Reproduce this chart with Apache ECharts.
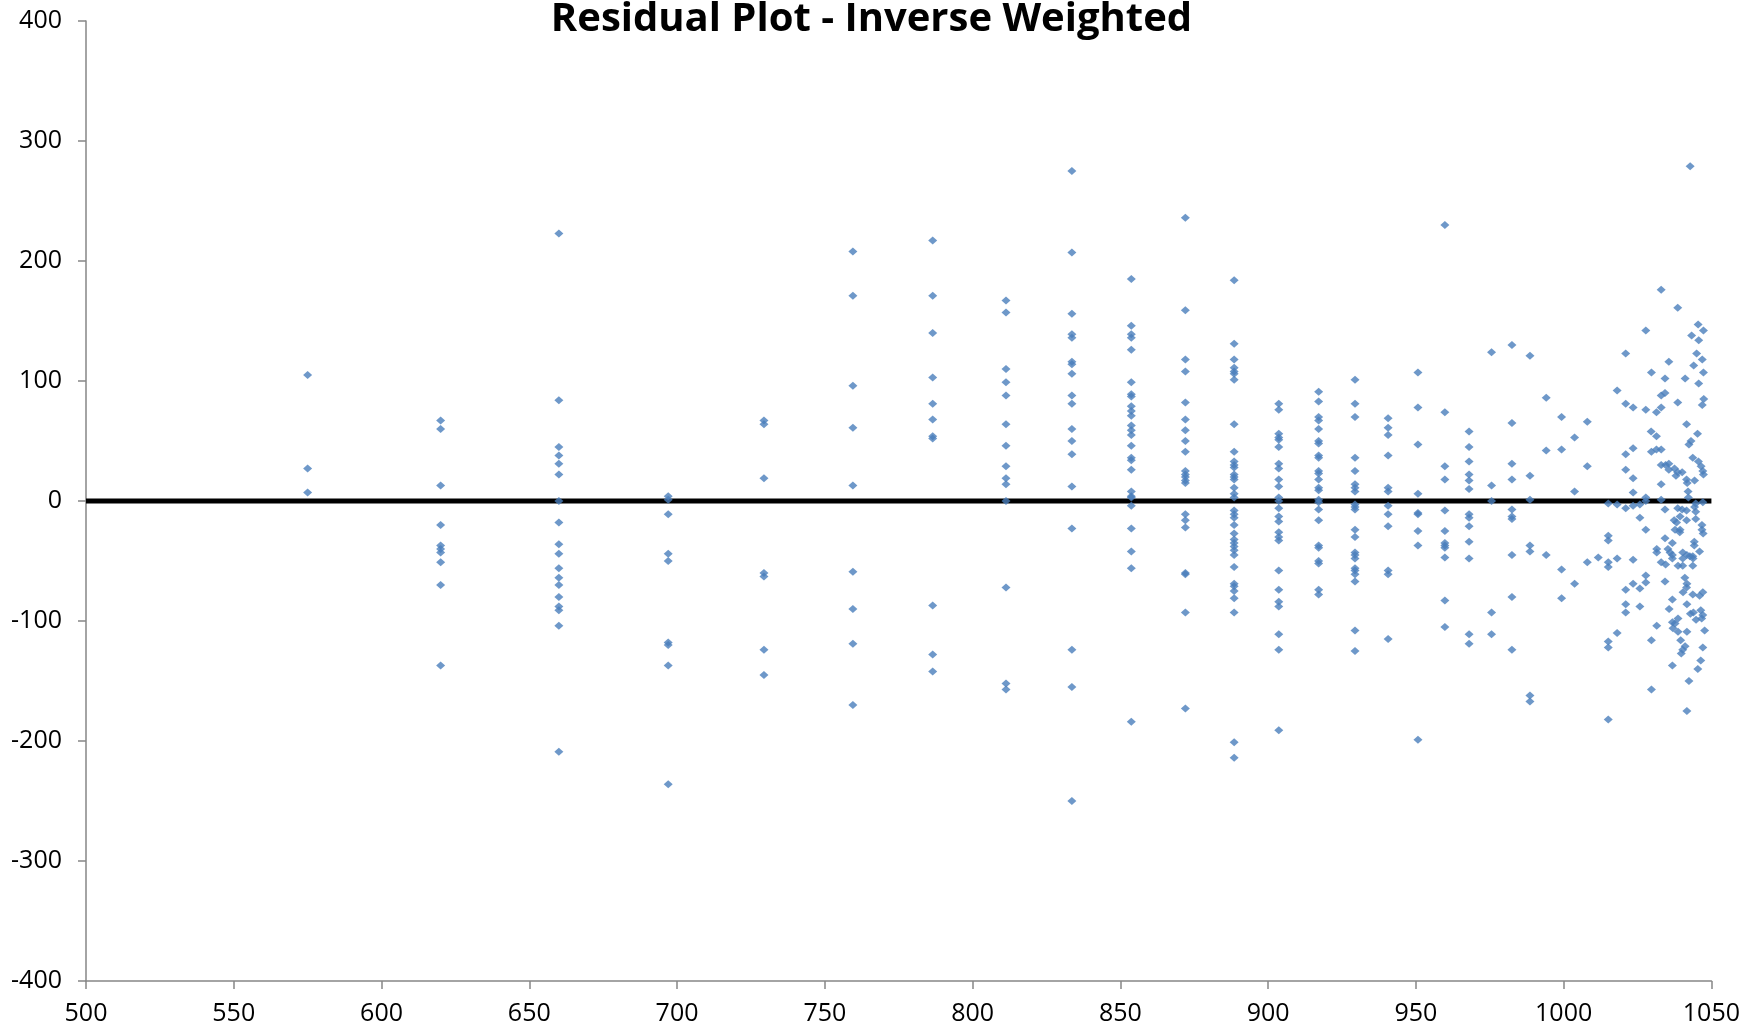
<!DOCTYPE html>
<html>
<head>
<meta charset="utf-8">
<title>Residual Plot - Inverse Weighted</title>
<script src="https://cdn.jsdelivr.net/npm/echarts@6/dist/echarts.min.js"></script>
<style>
  html, body { margin: 0; padding: 0; background: #fff; }
  #chart { width: 1743px; height: 1029px; }
</style>
</head>
<body>
<div id="chart"></div>
<script>
// predicted values where several points share the same x
var colX = [575, 620, 660, 697, 729.4, 759.5, 786.5, 811.3, 833.6, 853.7, 872, 888.5,
            903.6, 917.1, 929.4, 940.6, 950.7, 959.8, 968, 975.6, 982.5, 988.6, 994.1];

// residuals for each of those x values (same order)
var colRes = [
    [105, 27, 7],
    [67, 60, 13, -20, -37, -40, -43, -51, -70, -137],
    [223, 84, 45, 38, 31, 22, 0, -18, -36, -44, -56, -64, -70, -80, -88, -91, -104, -209],
    [4, 1, -11, -44, -50, -118, -120, -137, -236],
    [67, 64, 19, -60, -63, -124, -145],
    [208, 171, 96, 61, 13, -59, -90, -119, -170],
    [217, 171, 140, 103, 81, 68, 54, 52, -87, -128, -142],
    [167, 157, 110, 99, 88, 64, 46, 29, 19, 14, 0, -72, -152, -157],
    [275, 207, 156, 139, 136, 116, 114, 106, 88, 81, 60, 50, 39, 12, -23, -124, -155, -250],
    [185, 146, 139, 136, 126, 99, 89, 87, 79, 75, 71, 63, 59, 55, 46, 36, 34, 26, 8, 4, 3, -4, -23, -42, -56, -184],
    [236, 159, 118, 108, 82, 68, 59, 50, 41, 25, 22, 20, 17, 15, -11, -16, -22, -60, -61, -93, -173],
    [184, 131, 118, 111, 108, 106, 101, 64, 41, 33, 30, 28, 22, 20, 18, 11, 6, 3, -8, -11, -14, -20, -27,
     -32, -35, -38, -41, -45, -55, -69, -71, -75, -81, -93, -201, -214],
    [81, 76, 56, 53, 51, 45, 31, 27, 18, 12, 3, 0, -6, -13, -17, -26, -30, -33, -58, -74, -84, -88, -111, -124, -191],
    [91, 83, 70, 67, 60, 50, 48, 38, 36, 25, 23, 18, 11, 9, 1, -1, -7, -16, -37, -39, -50, -52, -74, -78],
    [101, 81, 70, 36, 25, 14, 11, 8, -3, -5, -7, -24, -30, -43, -45, -48, -56, -58, -61, -67, -108, -125],
    [69, 61, 55, 38, 11, 8, -4, -11, -21, -58, -61, -115],
    [107, 78, 47, 6, -10, -11, -25, -37, -199],
    [230, 74, 29, 18, -8, -25, -35, -37, -39, -47, -83, -105],
    [58, 45, 33, 22, 17, 10, -11, -14, -21, -34, -48, -111, -119],
    [124, 13, 0, -93, -111],
    [130, 65, 31, 18, -7, -13, -15, -45, -80, -124],
    [121, 21, 1, -37, -42, -162, -167],
    [86, 42, -45]
];

// scattered points above 995
var tailX = [
    1042.8, 1033, 1038.6, 1045.5, 1047.3, 1043.3, 1045.7, 1027.8, 1021, 1045, 1035.6, 1046.9, 1044,
    1029.7, 1047.3, 1034.3, 1041.1, 1045.7, 1018.1, 1033, 1034.3, 1047.4, 1046.9, 1021, 1023.5, 1027.8,
    1038.6, 1033, 1031.4, 999.3, 1008, 1041.6, 1045.3, 1003.7, 1029.6, 1031.4, 1043.1, 1042.4, 999.3,
    1023.5, 1021, 1029.7, 1031.4, 1033, 1043.7, 1045.6, 1046.5, 1047.1, 1047.3, 1008, 1033, 1034.5,
    1035.6, 1021, 1023.5, 1035.6, 1037.5, 1038.6, 1040.1, 1038, 1041.6, 1044.3, 1041.8, 1033, 1003.7,
    1023.5, 1042.1, 1027.8, 1027.8, 1033, 1042.2,
    1015.1, 1018.1, 1021, 1023.5, 1025.8, 1034.3, 1038.6, 1040.1, 1041.6, 1039.4, 1041.6, 1037.4,
    1038.2, 1044.7, 1044.3, 1044.7, 1044.7, 1047.1, 1025.8, 1027.8, 1015.1, 1015.1, 1034.3, 1036.8,
    1037.7, 1039.4, 1039.3, 1046.8, 1046.8, 1047.2, 1044.2, 1044.2, 1046, 1031.5, 1031.5, 1035.3, 1036,
    1036.8, 1036.8, 1040.3, 1041.7, 1040.3, 1042.7, 1043.7, 1043.8, 1038.7, 1040.3, 1043.7, 1033, 1034.5,
    1011.7, 1008, 1015.1, 1015.1, 1018.1, 1023.5, 999.3, 1003.7, 999.3, 1027.8, 1027.8, 1023.5, 1025.8,
    1021, 1034.3, 1041, 1041.7, 1041.6, 1040.4, 1043.7, 1046, 1047.1, 1036.8, 1035.7, 1041.7, 1021, 1021,
    1025.8, 1042.9, 1043.9, 1046.4, 1047.1, 1044.8, 1046.7, 1038.7, 1036.8, 1037.7, 1037, 1031.5, 1038.7,
    1041.7, 1047.7, 1018.1, 1029.7, 1039.6, 1015.1, 1015.1, 1041.1, 1040.3, 1039.8, 1047.1, 1046.4,
    1036.8, 1045.4, 1042.4, 1029.7, 1041.7, 1015.1
];
var tailRes = [
    279, 176, 161, 147, 142, 138, 134, 142, 123, 123, 116, 118, 113,
    107, 107, 102, 102, 98, 92, 88, 90, 85, 80, 81, 78, 76,
    82, 78, 74, 70, 66, 64, 56, 53, 58, 54, 50, 47, 43,
    44, 39, 41, 43, 43, 36, 33, 29, 25, 22, 29, 30, 30,
    31, 26, 19, 26, 27, 24, 24, 21, 18, 17, 15, 14, 8,
    7, 8, 3, 0, 1, 3,
    -2, -3, -6, -4, -3, -7, -6, -7, -8, -13, -16, -16,
    -18, -2, -5, -9, -15, -1, -14, -24, -29, -33, -31, -35,
    -24, -24, -26, -20, -24, -27, -34, -37, -42, -40, -43, -40, -43,
    -45, -48, -43, -45, -48, -46, -46, -48, -54, -54, -54, -51, -53,
    -47, -51, -51, -55, -48, -49, -57, -69, -81, -62, -68, -69, -73,
    -74, -67, -64, -69, -72, -76, -78, -79, -76, -82, -90, -86, -86, -93,
    -88, -94, -93, -91, -95, -99, -98, -98, -101, -102, -106, -104, -109,
    -109, -108, -110, -116, -116, -117, -122, -121, -124, -127, -122, -133,
    -137, -140, -150, -157, -175, -182
];

var xTicks = { min: 500, max: 1050, step: 50 };
var yTicks = { min: -400, max: 400, step: 100 };

var points = [];
colX.forEach(function (x, i) {
    colRes[i].forEach(function (r) { points.push([x, r]); });
});
tailX.forEach(function (x, i) { points.push([x, tailRes[i]]); });

var chart = echarts.init(document.getElementById('chart'));

var labelFont = {
    fontFamily: 'Open Sans',
    fontSize: 25,
    color: '#000',
    formatter: function (v) { return String(v); }
};

var option = {
    backgroundColor: '#fff',
    animation: false,
    title: {
        text: 'Residual Plot - Inverse Weighted',
        left: 'center',
        top: 0,
        padding: 0,
        textStyle: {
            fontFamily: 'Open Sans',
            fontWeight: 'bold',
            fontSize: 40,
            lineHeight: 40,
            color: '#000'
        }
    },
    grid: {
        left: 86,
        right: 31,
        top: 21,
        bottom: 48
    },
    xAxis: {
        type: 'value',
        min: xTicks.min,
        max: xTicks.max,
        interval: xTicks.step,
        axisLine: { onZero: false, lineStyle: { color: '#868686', width: 1.5 } },
        axisTick: { show: true, length: 8, lineStyle: { color: '#868686', width: 1.5 } },
        splitLine: { show: false },
        axisLabel: Object.assign({ margin: 20 }, labelFont)
    },
    yAxis: {
        type: 'value',
        min: yTicks.min,
        max: yTicks.max,
        interval: yTicks.step,
        axisLine: { onZero: false, lineStyle: { color: '#868686', width: 1.5 } },
        axisTick: { show: true, length: 8, lineStyle: { color: '#868686', width: 1.5 } },
        splitLine: { show: false },
        axisLabel: Object.assign({ margin: 24 }, labelFont)
    },
    series: [{
        // zero reference line
        type: 'line',
        data: [[xTicks.min, 0], [xTicks.max, 0]],
        symbol: 'none',
        silent: true,
        z: 1,
        lineStyle: { color: '#000', width: 5 }
    }, {
        type: 'scatter',
        data: points,
        symbol: 'diamond',
        symbolSize: [9, 8],
        z: 3,
        itemStyle: { color: '#4a7ebb' }
    }]
};
chart.setOption(option);
</script>
</body>
</html>
